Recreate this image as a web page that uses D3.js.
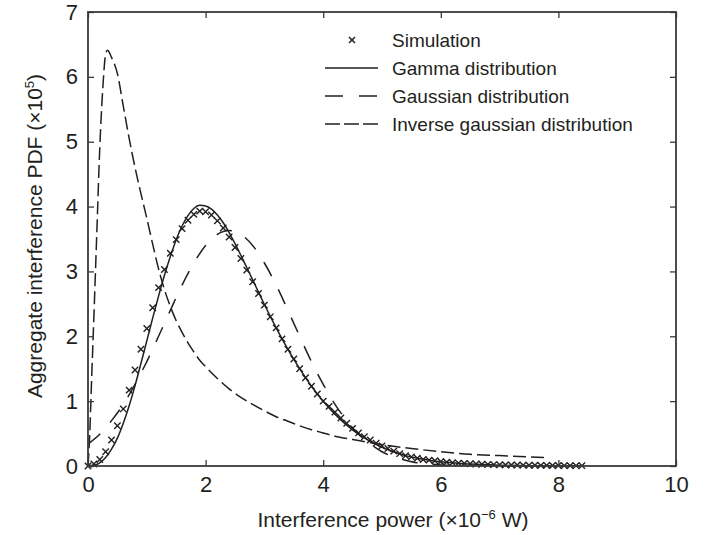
<!DOCTYPE html>
<html><head><meta charset="utf-8">
<script src="https://cdn.jsdelivr.net/npm/d3@7"></script>
<style>body{margin:0;background:#fff}svg{display:block}</style>
</head><body>
<svg id="chart" width="712" height="535"></svg>
<script>
// ---------- data (x in ×10^-6 W, y in ×10^5) ----------
const xTicks = [0, 2, 4, 6, 8, 10];
const yTicks = [0, 1, 2, 3, 4, 5, 6, 7];

const simX = [0,0.1,0.2,0.3,0.4,0.5,0.6,0.7,0.8,0.9,1.0,1.1,1.2,1.3,1.4,1.5,1.6,1.7,1.8,1.9,
  2.0,2.1,2.2,2.3,2.4,2.5,2.6,2.7,2.8,2.9,3.0,3.1,3.2,3.3,3.4,3.5,3.6,3.7,3.8,3.9,
  4.0,4.1,4.2,4.3,4.4,4.5,4.6,4.7,4.8,4.9,5.0,5.1,5.2,5.3,5.4,5.5,5.6,5.7,5.8,5.9,
  6.0,6.1,6.2,6.3,6.4,6.5,6.6,6.7,6.8,6.9,7.0,7.1,7.2,7.3,7.4,7.5,7.6,7.7,7.8,7.9,
  8.0,8.1,8.2,8.3,8.4];
const simY = [0,0.03,0.1,0.22,0.4,0.62,0.88,1.17,1.48,1.8,2.12,2.44,2.75,3.03,3.28,3.49,3.66,3.79,3.88,3.93,
  3.92,3.87,3.78,3.67,3.53,3.37,3.2,3.02,2.84,2.66,2.48,2.3,2.13,1.96,1.8,1.65,1.5,1.36,1.23,1.11,
  1.0,0.92,0.83,0.74,0.66,0.58,0.51,0.45,0.4,0.35,0.31,0.27,0.23,0.19,0.16,0.14,0.12,0.1,0.09,0.08,
  0.07,0.06,0.05,0.045,0.04,0.035,0.03,0.028,0.025,0.022,0.02,0.018,0.016,0.015,0.013,0.012,0.011,0.01,0.009,0.008,
  0.007,0.006,0.006,0.005,0.005];

const gammaX = [0,0.1,0.2,0.3,0.4,0.5,0.6,0.7,0.8,0.9,1.0,1.1,1.2,1.3,1.4,1.5,1.6,1.7,1.8,1.9,
  2.0,2.1,2.2,2.3,2.4,2.5,2.6,2.7,2.8,2.9,3.0,3.2,3.4,3.6,3.8,4.0,4.2,4.4,4.6,4.8,
  5.0,5.2,5.4,5.6,5.8,6.0,6.5,7.0,7.5,8.0,8.4];
const gammaY = [0,0.01,0.05,0.13,0.26,0.43,0.66,0.93,1.24,1.58,1.93,2.28,2.62,2.94,3.23,3.49,3.7,3.86,3.97,4.02,
  4.01,3.96,3.87,3.75,3.6,3.43,3.25,3.06,2.87,2.68,2.49,2.13,1.8,1.5,1.23,1.0,0.8,0.63,0.49,0.38,
  0.29,0.22,0.16,0.12,0.09,0.065,0.03,0.013,0.005,0.002,0.001];

const gaussX = [0,0.2,0.4,0.6,0.8,1.0,1.2,1.4,1.6,1.8,2.0,2.2,2.4,2.6,2.8,3.0,3.2,3.4,3.6,3.8,
  4.0,4.2,4.4,4.6,4.8,5.0,5.2,5.4,5.6,5.8,6.0,6.2,6.4];
const gaussY = [0.34,0.49,0.7,0.95,1.26,1.61,2.0,2.4,2.79,3.13,3.4,3.57,3.63,3.57,3.4,3.13,2.79,2.4,2.0,1.61,
  1.26,0.95,0.7,0.49,0.34,0.22,0.14,0.09,0.05,0.03,0.017,0.009,0.005];

const invX = [0,0.03,0.06,0.1,0.15,0.2,0.25,0.3,0.33,0.4,0.5,0.6,0.7,0.8,0.9,1.0,1.1,1.2,1.3,1.4,
  1.5,1.6,1.7,1.8,1.9,2.0,2.2,2.4,2.6,2.8,3.0,3.2,3.4,3.6,3.8,4.0,4.2,4.5,5.0,5.5,
  6.0,6.5,7.0,7.5,7.8];
const invY = [0,0.5,1.3,2.3,3.6,4.9,5.8,6.35,6.41,6.3,6.05,5.55,5.05,4.6,4.2,3.82,3.42,3.04,2.72,2.46,
  2.24,2.06,1.9,1.76,1.63,1.53,1.35,1.19,1.06,0.95,0.85,0.76,0.69,0.62,0.56,0.51,0.46,0.41,0.33,0.27,
  0.22,0.18,0.16,0.14,0.13];

const legendLabels = ["Simulation", "Gamma distribution", "Gaussian distribution", "Inverse gaussian distribution"];

// ---------- drawing ----------
const INK = "#231f20";
const FONT = "'Liberation Sans', Arial, Helvetica, sans-serif";
const x = d3.scaleLinear().domain([0, 10]).range([88, 676]);
const y = d3.scaleLinear().domain([0, 7]).range([466, 12]);
const svg = d3.select("#chart");

svg.append("defs").append("clipPath").attr("id", "clip")
  .append("rect").attr("x", 84).attr("y", 8).attr("width", 596).attr("height", 462);

const zip = (xs, ys) => xs.map((v, i) => [v, ys[i]]);
const line = d3.line().x(d => x(d[0])).y(d => y(d[1])).curve(d3.curveMonotoneX);

const plot = svg.append("g").attr("clip-path", "url(#clip)");

plot.append("path").datum(zip(invX, invY)).attr("d", line)
  .attr("fill", "none").attr("stroke", INK).attr("stroke-width", 1.5).attr("stroke-dasharray", "13,5");
plot.append("path").datum(zip(gaussX, gaussY)).attr("d", line)
  .attr("fill", "none").attr("stroke", INK).attr("stroke-width", 1.5).attr("stroke-dasharray", "16,15");
plot.append("path").datum(zip(gammaX, gammaY)).attr("d", line)
  .attr("fill", "none").attr("stroke", INK).attr("stroke-width", 1.5);

const cross = (sel, s, w) => sel.append("path")
  .attr("d", `M${-s},${-s}L${s},${s}M${-s},${s}L${s},${-s}`)
  .attr("stroke", INK).attr("stroke-width", w).attr("fill", "none");

plot.selectAll("g.sim").data(zip(simX, simY)).join("g").attr("class", "sim")
  .attr("transform", d => `translate(${x(d[0])},${y(d[1])})`)
  .each(function() { cross(d3.select(this), 3.2, 1.4); });

// axes
const axStyle = g => {
  g.select(".domain").remove();
  g.selectAll(".tick line").attr("stroke", "#3a3a3a").attr("stroke-width", 1.3);
  g.selectAll("text").attr("fill", INK).style("font-family", FONT).style("font-size", "22px");
};
svg.append("g").attr("transform", "translate(0,466)")
  .call(d3.axisBottom(x).tickValues(xTicks).tickSizeInner(-6).tickSizeOuter(0).tickPadding(10).tickFormat(d3.format("d")))
  .call(axStyle);
svg.append("g").attr("transform", "translate(0,12)")
  .call(d3.axisTop(x).tickValues(xTicks).tickSizeInner(-6).tickSizeOuter(0).tickFormat(""))
  .call(axStyle);
svg.append("g").attr("transform", "translate(88,0)")
  .call(d3.axisLeft(y).tickValues(yTicks).tickSizeInner(-6).tickSizeOuter(0).tickPadding(10).tickFormat(d3.format("d")))
  .call(axStyle);
svg.append("g").attr("transform", "translate(676,0)")
  .call(d3.axisRight(y).tickValues(yTicks).tickSizeInner(-6).tickSizeOuter(0).tickFormat(""))
  .call(axStyle);

svg.append("rect").attr("x", x(0)).attr("y", y(7)).attr("width", x(10) - x(0)).attr("height", y(0) - y(7))
  .attr("fill", "none").attr("stroke", "#3a3a3a").attr("stroke-width", 1.8);

// axis titles
const xt = svg.append("text").attr("x", 393).attr("y", 527).attr("text-anchor", "middle")
  .attr("fill", INK).style("font-family", FONT).style("font-size", "21px");
xt.append("tspan").text("Interference power (×10");
xt.append("tspan").attr("dy", -8).style("font-size", "13px").text("−6");
xt.append("tspan").attr("dy", 8).text(" W)");

const yt = svg.append("text").attr("transform", "translate(42,236) rotate(-90)").attr("text-anchor", "middle")
  .attr("fill", INK).style("font-family", FONT).style("font-size", "21px");
yt.append("tspan").text("Aggregate interference PDF (×10");
yt.append("tspan").attr("dy", -8).style("font-size", "13px").text("5");
yt.append("tspan").attr("dy", 8).text(")");

// legend
const rowsY = [40, 68, 96, 124];
const leg = svg.append("g");
const lx0 = 325, lx1 = 378;
cross(leg.append("g").attr("transform", `translate(352,${rowsY[0]})`), 3, 1.5);
leg.append("line").attr("x1", lx0).attr("x2", lx1).attr("y1", rowsY[1]).attr("y2", rowsY[1])
  .attr("stroke", INK).attr("stroke-width", 1.5);
leg.append("line").attr("x1", lx0).attr("x2", lx1).attr("y1", rowsY[2]).attr("y2", rowsY[2])
  .attr("stroke", INK).attr("stroke-width", 1.5).attr("stroke-dasharray", "18,16");
leg.append("line").attr("x1", lx0).attr("x2", lx1).attr("y1", rowsY[3]).attr("y2", rowsY[3])
  .attr("stroke", INK).attr("stroke-width", 1.5).attr("stroke-dasharray", "15,4");
leg.selectAll("text.lab").data(legendLabels).join("text").attr("class", "lab")
  .attr("x", 392).attr("y", (d, i) => rowsY[i]).attr("dy", "0.36em")
  .attr("fill", INK).style("font-family", FONT).style("font-size", "19px")
  .text(d => d);
</script>
</body></html>
